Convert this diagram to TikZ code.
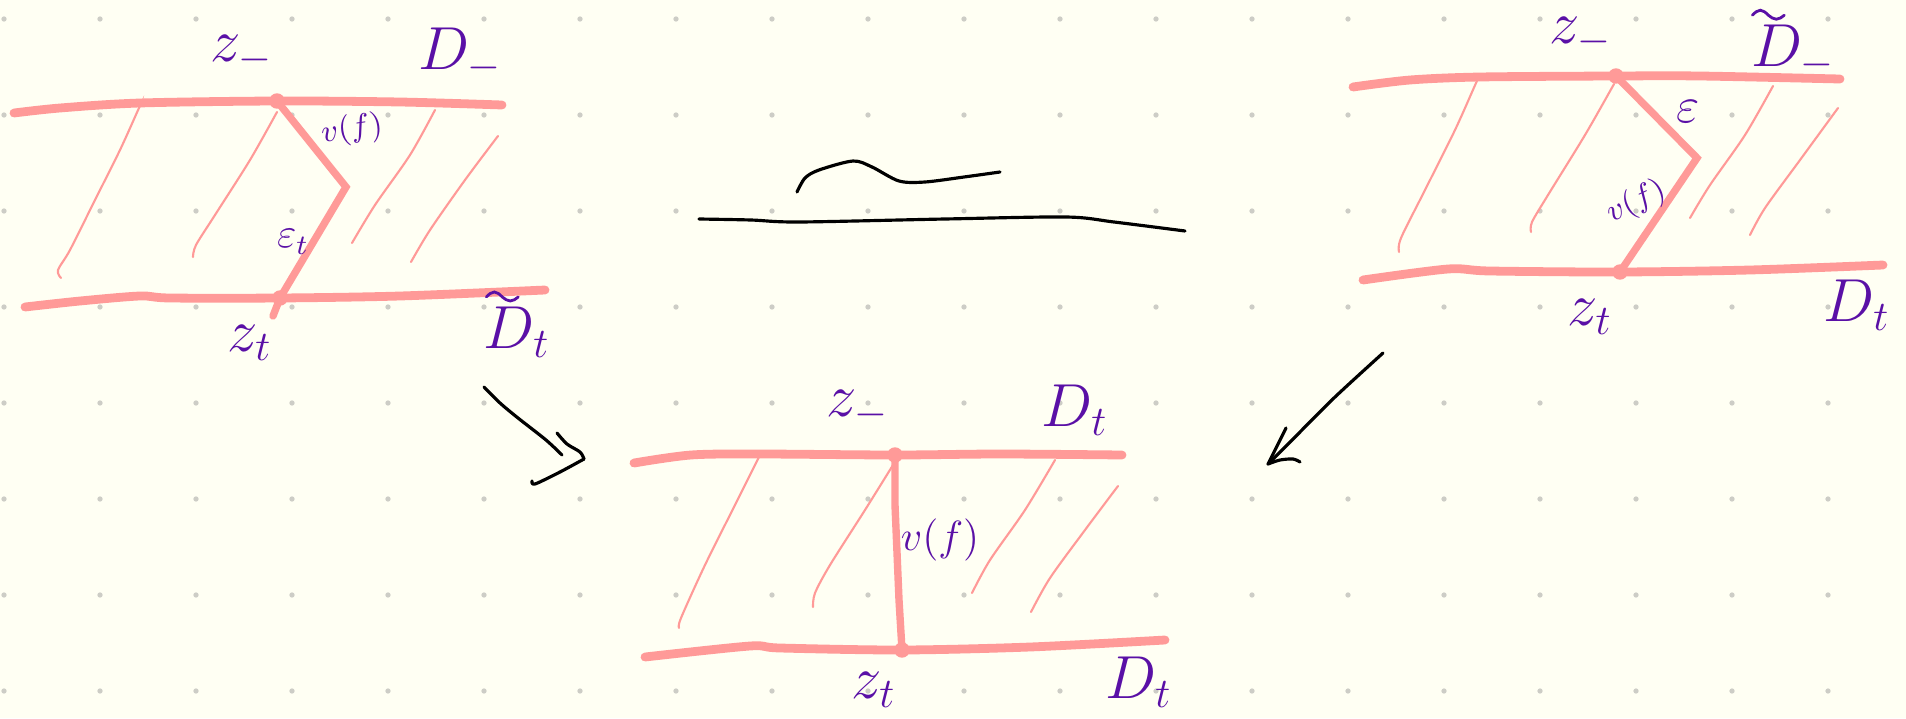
\documentclass[tikz,border=0pt]{standalone}
\usepackage{amsmath}
\usepackage{amssymb}
\usepackage{xcolor}
\usepackage{tikz}
\usetikzlibrary{arrows,shapes,positioning,calc}

\definecolor{paper}{HTML}{FFFFF3}
\definecolor{chalk}{HTML}{FF9A98}
\definecolor{ink}{HTML}{5A10A6}
\definecolor{griddot}{HTML}{CDCDC6}

\begin{document}
\begin{tikzpicture}[
    x=0.01cm, y=-0.01cm,
    rim/.style={draw=chalk, line width=2.5pt, line cap=round, line join=round},
    fibre/.style={draw=chalk, line width=0.6pt, line cap=round},
    jump/.style={draw=chalk, line width=2.1pt, line cap=round, line join=miter},
    blob/.style={fill=chalk},
    lab/.style={text=ink, inner sep=0pt, font=\LARGE},
    wiggle/.style={draw=ink, line width=0.8pt, line cap=round},
    pen/.style={draw=black, line width=0.9pt, line cap=round, line join=round}
]

\path[use as bounding box, fill=paper] (0,0) rectangle (1906,718);
\foreach \i in {0,...,19}
  \foreach \j in {0,...,7}
    \fill[griddot] (4+96*\i,19+96*\j) circle (0.75pt);

% left strip
\coordinate (zmL) at (277,101);
\coordinate (kL) at (346,187);
\coordinate (ztL) at (280,298);
\coordinate (tailL) at (273,316);

\draw[rim] plot[smooth] coordinates {(14,113) (60,108) (140,103) (277,101) (400,102) (502,105)};
\draw[rim] plot[smooth] coordinates {(25,307) (80,301) (140,296) (170,298) (280,298) (400,296) (545,290)};
\draw[fibre] plot[smooth] coordinates {(141,104) (139,108) (120,150) (95,200) (70,250) (58,270) (61,278)};
\draw[fibre] plot[smooth] coordinates {(277,112) (250,160) (215,215) (196,245) (193,257)};
\draw[fibre] plot[smooth] coordinates {(435,110) (410,155) (375,205) (352,243)};
\draw[fibre] plot[smooth] coordinates {(498,136) (465,180) (430,230) (411,262)};
\draw[jump] (zmL) -- (kL) -- (ztL) -- (tailL);
\fill[blob] (zmL) circle (2.2pt);
\fill[blob] (ztL) circle (2.2pt);

\node[lab] (zmLlab) at (242,55) {$z_-$};
\node[lab] (DmLlab) at (460,55) {$D_-$};
\node[lab, font=\small, rotate=8] (vLlab) at (352,130) {$v(f)$};
\node[lab, font=\large] (epsLlab) at (293,242) {$\varepsilon_t$};
\node[lab] (ztLlab) at (250,343) {$z_t$};
\node[lab] (DtLlab) at (517,332) {$D_t$};
\draw[wiggle] ([xshift=0.03cm,yshift=0.09cm]DtLlab.north west)
  sin ++(0.08cm,0.05cm) cos ++(0.08cm,-0.05cm) sin ++(0.08cm,-0.04cm) cos ++(0.08cm,0.04cm);

% right strip
\coordinate (zmR) at (1616,76);
\coordinate (kR) at (1697,158);
\coordinate (ztR) at (1620,272);

\draw[rim] plot[smooth] coordinates {(1353,87) (1410,80) (1480,77) (1616,76) (1700,76) (1840,79)};
\draw[rim] plot[smooth] coordinates {(1363,280) (1448,269) (1490,271) (1620,272) (1750,270) (1883,265)};
\draw[fibre] plot[smooth] coordinates {(1478,79) (1476,83) (1455,130) (1425,190) (1401,238) (1399,252)};
\draw[fibre] plot[smooth] coordinates {(1614,84) (1585,135) (1548,195) (1532,222) (1531,232)};
\draw[fibre] plot[smooth] coordinates {(1773,86) (1745,135) (1710,185) (1690,218)};
\draw[fibre] plot[smooth] coordinates {(1838,108) (1800,160) (1765,208) (1750,235)};
\draw[jump] (zmR) -- (kR) -- (ztR);
\fill[blob] (zmR) circle (2.2pt);
\fill[blob] (ztR) circle (2.2pt);

\node[lab] (zmRlab) at (1581,37) {$z_-$};
\node[lab] (DmRlab) at (1793,52) {$D_-$};
\draw[wiggle] ([xshift=0.02cm,yshift=0.09cm]DmRlab.north west)
  sin ++(0.08cm,0.05cm) cos ++(0.08cm,-0.05cm) sin ++(0.08cm,-0.04cm) cos ++(0.08cm,0.04cm);
\node[lab, font=\Large] (epsRlab) at (1688,112) {$\varepsilon$};
\node[lab, font=\small, rotate=25] (vRlab) at (1636,202) {$v(f)$};
\node[lab] (ztRlab) at (1590,317) {$z_t$};
\node[lab] (DtRlab) at (1857,305) {$D_t$};

% middle strip
\coordinate (zmM) at (895,455);
\coordinate (kM) at (895,505);
\coordinate (ztM) at (902,650);

\draw[rim] plot[smooth] coordinates {(634,463) (691,455) (760,454) (895,455) (1000,454) (1122,455)};
\draw[rim] plot[smooth] coordinates {(645,657) (750,646) (780,648) (902,650) (1030,647) (1165,640)};
\draw[fibre] plot[smooth] coordinates {(759,457) (757,461) (735,505) (705,565) (681,618) (679,628)};
\draw[fibre] plot[smooth] coordinates {(893,465) (865,510) (830,565) (815,593) (813,607)};
\draw[fibre] plot[smooth] coordinates {(1055,460) (1025,510) (990,560) (972,593)};
\draw[fibre] plot[smooth] coordinates {(1118,486) (1085,530) (1050,578) (1031,612)};
\draw[jump] (zmM) -- (kM) -- (899,600) -- (ztM);
\fill[blob] (zmM) circle (2.2pt);
\fill[blob] (ztM) circle (2.2pt);

\node[lab] (zmMlab) at (858,410) {$z_-$};
\node[lab] (DtMtop) at (1075,410) {$D_t$};
\node[lab, font=\large] (vMlab) at (940,540) {$v(f)$};
\node[lab] (ztMlab) at (874,690) {$z_t$};
\node[lab] (DtMlab) at (1139,682) {$D_t$};

% sketch arrows
\coordinate (tildeA) at (797,192);
\coordinate (tildeB) at (1000,172);
\coordinate (lineA) at (699,219);
\coordinate (lineB) at (1185,231);
\draw[pen] plot[smooth] coordinates {(tildeA) (805,178) (819,170) (853,161) (872,167) (899,181) (925,182) (964,177) (tildeB)};
\draw[pen] plot[smooth] coordinates {(lineA) (751,220) (799,222) (945,219) (1066,217) (1114,222) (lineB)};

\coordinate (arrL) at (484,387);
\coordinate (tipL) at (584,459);
\draw[pen] plot[smooth] coordinates {(arrL) (500,403) (518,418) (546,440) (562,455)};
\draw[pen] plot[smooth] coordinates {(557,433) (567,444) (580,452) (tipL)};
\draw[pen] plot[smooth] coordinates {(532,481) (535,484) (560,472) (tipL)};

\coordinate (arrR) at (1383,353);
\coordinate (tipR) at (1268,464);
\draw[pen] plot[smooth] coordinates {(arrR) (1335,397) (1298,434) (1275,457) (tipR)};
\draw[pen] (1286,428) -- (tipR);
\draw[pen] plot[smooth] coordinates {(tipR) (1280,460) (1293,459) (1300,462)};

\end{tikzpicture}
\end{document}
